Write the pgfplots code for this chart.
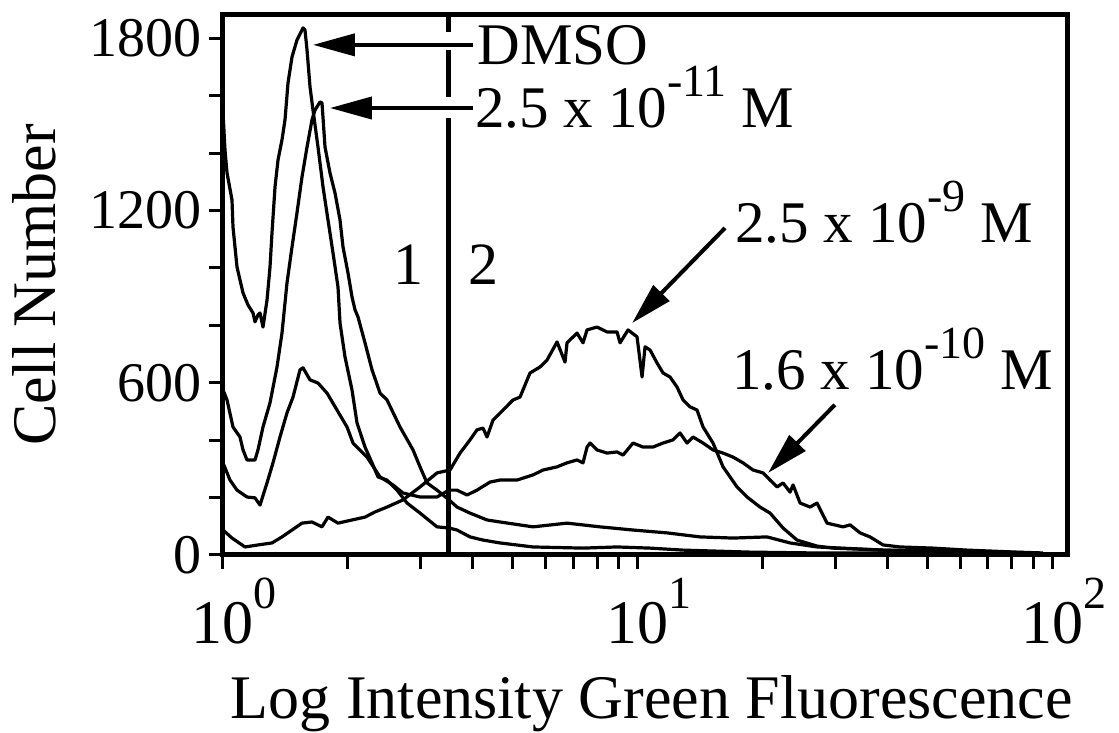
\documentclass[border=0pt]{standalone}
\usepackage{fontspec}
\setmainfont{Liberation Serif}
\usepackage{pgfplots}
\pgfplotsset{compat=1.18}
\usetikzlibrary{arrows.meta}

% raised superscripts as in the original figure
\newcommand\tsup[1]{\rlap{\raisebox{0.56em}{\fontsize{23}{23}\selectfont #1}}}
\newcommand\asup[1]{\raisebox{0.53em}{\fontsize{23}{23}\selectfont #1}}
\newcommand\tl[1]{\fontsize{31}{32}\selectfont 10\tsup{#1}}

\pgfplotsset{curve/.style={black, line width=1.6pt, no marks, line join=round}}

\begin{document}
\begin{tikzpicture}
\path[use as bounding box] (-111.5pt,-89pt) rectangle (448pt,277.5pt);
\begin{axis}[
    at={(0,0)}, anchor=south west,
    scale only axis,
    width=422pt, height=270pt,
    xmin=0, xmax=2.036,
    ymin=0, ymax=1881,
    clip=false,
    axis line style={line width=2.5pt},
    tick style={line width=1.5pt, black},
    tick align=outside,
    xtick pos=left, ytick pos=left,
    major tick length=7pt, minor tick length=7pt,
    xtick={0,1,2},
    xticklabels={\tl{0},\tl{1},\tl{2}},
    minor xtick={0.30103,0.47712,0.60206,0.69897,0.77815,0.84510,0.90309,0.95424,
                 1.30103,1.47712,1.60206,1.69897,1.77815,1.84510,1.90309,1.95424},
    ytick={0,600,1200,1800},
    yticklabels={0,600,1200,1800},
    minor ytick={200,400,800,1000,1400,1600},
    yticklabel style={font=\fontsize{28}{30}\selectfont},
    xticklabel style={font=\fontsize{31}{32}\selectfont, yshift=-1pt},
    label style={font=\fontsize{31}{34}\selectfont},
    xlabel={Log Intensity Green Fluorescence},
    ylabel={Cell Number},
    xlabel style={at={(axis description cs:0.508,-0.302)}, anchor=base},
    ylabel style={at={(axis description cs:-0.199,0.5)}, anchor=base},
]

% DMSO
\addplot[curve] coordinates {
(0,1543) (0.0048,1411) (0.0097,1331) (0.0217,1237) (0.0241,1143) (0.0338,1003)
(0.0483,913) (0.0603,871) (0.0724,843) (0.0772,812) (0.0844,836) (0.0893,843)
(0.0965,794) (0.1062,888) (0.1134,1003) (0.1182,1122) (0.1255,1282) (0.1327,1376)
(0.1423,1446) (0.1496,1516) (0.1568,1644) (0.1665,1735) (0.1785,1794) (0.1930,1836)
(0.1978,1829) (0.2027,1759) (0.2099,1631) (0.2171,1550) (0.2292,1421) (0.2413,1282)
(0.2533,1167) (0.2654,1052) (0.2774,934) (0.2823,808) (0.2943,690) (0.3112,575)
(0.3233,460) (0.3426,376) (0.3595,321) (0.3739,272) (0.3957,261) (0.4198,226)
(0.4439,181) (0.4753,146) (0.5163,98) (0.5452,94) (0.5645,87) (0.5959,63)
(0.6273,52) (0.6683,42) (0.7479,28) (0.8685,24) (0.9506,28) (1.0301,24)
(1.1098,17) (1.2714,10) (1.4330,7) (1.6333,7) (1.8745,3) (1.9952,3)
};

% 2.5 x 10^-11 M
\addplot[curve] coordinates {
(0,575) (0.0097,540) (0.0241,446) (0.0410,411) (0.0483,366) (0.0579,331)
(0.0772,331) (0.0844,366) (0.0965,446) (0.1134,530) (0.1303,655) (0.1423,773)
(0.1544,948) (0.1665,1073) (0.1785,1192) (0.1906,1317) (0.2027,1421) (0.2147,1516)
(0.2220,1550) (0.2340,1578) (0.2388,1575) (0.2461,1421) (0.2581,1331) (0.2702,1261)
(0.2823,1167) (0.2895,1073) (0.3016,982) (0.3112,899) (0.3185,854) (0.3257,829)
(0.3426,739) (0.3595,645) (0.3788,564) (0.3957,540) (0.4270,446) (0.4584,366)
(0.4753,307) (0.4922,251) (0.5163,226) (0.5452,192) (0.5645,167) (0.5959,146)
(0.6369,122) (0.6683,115) (0.7479,98) (0.8299,111) (0.9095,98) (0.9891,87)
(1.0712,77) (1.1508,63) (1.2304,59) (1.3124,63) (1.3679,42) (1.4330,28)
(1.5923,17) (1.7539,10) (1.9542,7)
};

% 1.6 x 10^-10 M
\addplot[curve] coordinates {
(0,321) (0.0169,261) (0.0338,226) (0.0579,202) (0.0772,199) (0.0893,174)
(0.1062,251) (0.1206,321) (0.1375,411) (0.1544,495) (0.1689,550) (0.1858,645)
(0.1930,652) (0.2099,610) (0.2292,599) (0.2509,564) (0.2750,505) (0.2992,446)
(0.3136,390) (0.3474,341) (0.3788,272) (0.4101,244) (0.4343,216) (0.4753,202)
(0.5163,202) (0.5452,226) (0.5645,226) (0.5887,209) (0.6128,226) (0.6441,254)
(0.6683,261) (0.7093,261) (0.7479,279) (0.7720,296) (0.8058,307) (0.8299,321)
(0.8540,331) (0.8685,321) (0.8782,376) (0.8854,390) (0.9023,366) (0.9264,355)
(0.9506,359) (0.9650,348) (0.9891,390) (1.0133,376) (1.0374,376) (1.0615,390)
(1.0856,401) (1.1025,425) (1.1194,390) (1.1339,411) (1.1580,390) (1.1821,366)
(1.2063,355) (1.2304,341) (1.2545,321) (1.2786,296) (1.3028,286) (1.3197,261)
(1.3366,237) (1.3510,251) (1.3679,219) (1.3752,244) (1.3921,181) (1.4162,167)
(1.4330,181) (1.4572,111) (1.4958,98) (1.5127,105) (1.5368,77) (1.5609,63)
(1.5923,35) (1.6333,28) (1.7129,24) (1.7949,17) (1.9156,10) (1.9783,7)
};

% 2.5 x 10^-9 M
\addplot[curve] coordinates {
(0,87) (0.0217,59) (0.0531,28) (0.0844,35) (0.1182,42) (0.1423,63)
(0.1665,87) (0.1906,111) (0.2147,115) (0.2388,98) (0.2533,132) (0.2774,111)
(0.3112,122) (0.3426,132) (0.3667,150) (0.3957,167) (0.4343,192) (0.4753,237)
(0.5163,286) (0.5476,296) (0.5718,355) (0.5959,401) (0.6128,436) (0.6273,442)
(0.6369,411) (0.6514,470) (0.6755,505) (0.6996,540) (0.7165,550) (0.7406,634)
(0.7648,655) (0.7817,679) (0.8058,742) (0.8251,672) (0.8299,739) (0.8540,773)
(0.8685,739) (0.8782,784) (0.9023,794) (0.9264,777) (0.9506,777) (0.9578,739)
(0.9771,784) (0.9988,760) (1.0109,620) (1.0181,725) (1.0302,714) (1.0470,669)
(1.0615,634) (1.0784,620) (1.0953,585) (1.1098,540) (1.1267,516) (1.1435,505)
(1.1580,446) (1.1821,390) (1.2063,307) (1.2400,237) (1.2642,202) (1.2955,167)
(1.3197,146) (1.3510,94) (1.3848,52) (1.4330,31) (1.4716,24) (1.5923,17)
(1.7539,14) (1.9710,7)
};

% gate between regions 1 and 2, broken where the arrows cross it
\addplot[black, line width=2.5pt] coordinates {(0.543,0) (0.543,1523)};
\addplot[black, line width=2.5pt] coordinates {(0.543,1596) (0.543,1759)};
\addplot[black, line width=2.5pt] coordinates {(0.543,1822) (0.543,1881)};

\draw[line width=2pt, -{Triangle[length=21pt,width=11pt]}]
    (axis cs:0.603,1777) -- (axis cs:0.217,1777);
\draw[line width=2pt, -{Triangle[length=21pt,width=11pt]}]
    (axis cs:0.603,1557) -- (axis cs:0.258,1557);
\draw[line width=2pt, -{Triangle[length=21pt,width=11pt]}]
    (axis cs:1.211,1139) -- (axis cs:0.987,808);
\draw[line width=2pt, -{Triangle[length=21pt,width=11pt]}]
    (axis cs:1.476,523) -- (axis cs:1.315,286);

\begin{scope}[every node/.style={anchor=base west, inner sep=0pt,
    font=\fontsize{29.5}{30}\selectfont}]
\node at (axis cs:0.613,1707) {DMSO};
\node at (axis cs:0.608,1488) {2.5 x 10\asup{-11} M};
\node at (axis cs:1.235,1087) {2.5 x 10\asup{-9} M};
\node at (axis cs:1.228,575) {1.6 x 10\asup{-10} M};
\node[font=\fontsize{30}{30}\selectfont] at (axis cs:0.411,941) {1};
\node[font=\fontsize{30}{30}\selectfont] at (axis cs:0.591,941) {2};
\end{scope}

\end{axis}
\end{tikzpicture}
\end{document}
